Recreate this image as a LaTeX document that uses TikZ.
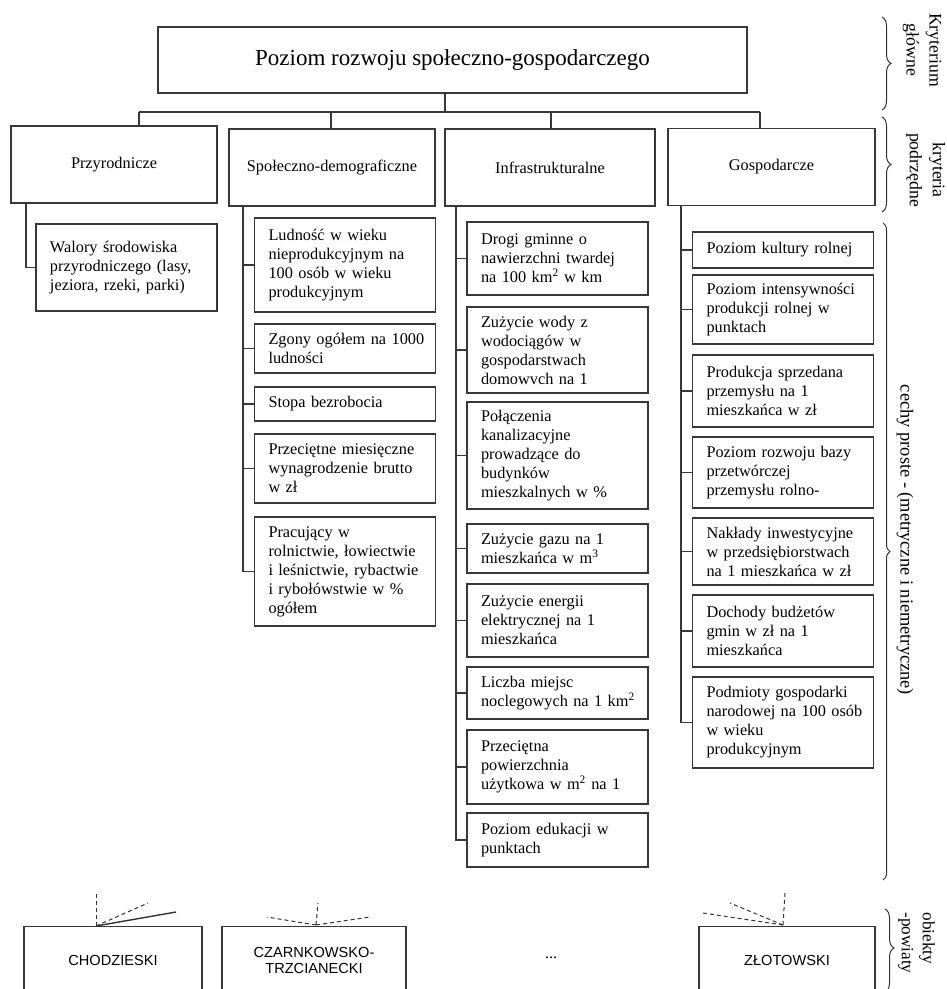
\documentclass[tikz,border=0pt]{standalone}
\usepackage{fontspec}
\setmainfont{Liberation Serif}
\newfontfamily\arialf{Liberation Sans}
\usetikzlibrary{decorations.pathreplacing}
\begin{document}
\begin{tikzpicture}[x=1pt,y=-1pt,
  every node/.style={inner sep=0pt},
  ln/.style={draw=black!78, line width=1.1pt},
  conn/.style={draw=black!78, line width=1.1pt},
  titlebox/.style={ln, minimum width=589pt, minimum height=66pt, font=\fontsize{23}{27}\selectfont},
  catbox/.style={ln, minimum height=77pt, font=\fontsize{16.3}{20}\selectfont},
  subbox/.style={ln, minimum width=181pt, text width=163pt, align=left, inner xsep=9pt, font=\fontsize{16.3}{19}\selectfont},
  objbox/.style={ln, anchor=north, minimum height=68pt, align=center, font=\arialf\fontsize{14.6}{16}\selectfont},
  brc/.style={draw=black!80, line width=1pt, decorate, decoration={brace, amplitude=9pt}},
  blabel/.style={rotate=-90, align=center, font=\fontsize{17.7}{23}\selectfont},
  dsh/.style={draw=black!80, line width=1pt, dash pattern=on 4pt off 3pt},
  sol/.style={draw=black!80, line width=1.4pt}
]
\useasboundingbox (0,0) rectangle (947,989);

% title
\node[titlebox] (top) at (452.5,60) {Poziom rozwoju społeczno-gospodarczego};

% categories
\node[catbox, minimum width=206pt] (c1) at (114,164.5) {Przyrodnicze};
\node[catbox, minimum width=206pt] (c2) at (332,167.5) {Społeczno-demograficzne};
\node[catbox, minimum width=210pt] (c3) at (550,167.5) {Infrastrukturalne};
\node[catbox, minimum width=207pt] (c4) at (771.5,167) {Gospodarcze};

% bus
\coordinate (bus) at (445,112);
\coordinate (t1) at (139,112);
\coordinate (t2) at (331,112);
\coordinate (t3) at (551,112);
\coordinate (t4) at (760,112);
\draw[conn] (top.south -| bus) -- (bus);
\draw[conn] (t1) -- (t4);
\draw[conn] (t1) -- (c1.north -| t1);
\draw[conn] (t2) -- (c2.north -| t2);
\draw[conn] (t3) -- (c3.north -| t3);
\draw[conn] (t4) -- (c4.north -| t4);

% column 1
\node[subbox, minimum height=87pt] (a1) at (126.5,267.5) {\hspace*{5pt}Walory środowiska\\\hspace*{5pt}przyrodniczego (lasy,\\\hspace*{5pt}jeziora, rzeki, parki)};
\coordinate (v1) at (26,0);
\draw[conn] (c1.south -| v1) |- (a1.west);

% column 2
\node[subbox, minimum height=94pt] (b1) at (345,265) {\hspace*{5pt}Ludność w wieku\\\hspace*{5pt}nieprodukcyjnym na\\\hspace*{5pt}100 osób w wieku\\\hspace*{5pt}produkcyjnym};
\node[subbox, minimum height=49pt] (b2) at (345,348.5) {\hspace*{5pt}Zgony ogółem na 1000\\\hspace*{5pt}ludności};
\node[subbox, minimum height=34pt] (b3) at (345,404) {\hspace*{5pt}Stopa bezrobocia};
\node[subbox, minimum height=69pt] (b4) at (345,468.5) {\hspace*{5pt}Przeciętne miesięczne\\\hspace*{5pt}wynagrodzenie brutto\\\hspace*{5pt}w zł};
\node[subbox, minimum height=109pt] (b5) at (345,571.5) {\hspace*{5pt}Pracujący w\\\hspace*{5pt}rolnictwie, łowiectwie\\\hspace*{5pt}i leśnictwie, rybactwie\\\hspace*{5pt}i rybołówstwie w \%\\\hspace*{5pt}ogółem};
\coordinate (v2) at (243,0);
\draw[conn] (c2.south -| v2) |- (b5.west);
\foreach \n in {b1,b2,b3,b4} \draw[conn] (\n.west) -- (\n.west -| v2);

% column 3
\node[subbox, minimum height=73pt] (d1) at (557.5,258.5) {\hspace*{5pt}Drogi gminne o\\\hspace*{5pt}nawierzchni twardej\\\hspace*{5pt}na 100 km\textsuperscript{2} w km};
\node[subbox, minimum height=86pt] (d2) at (557.5,350) {\hspace*{5pt}Zużycie wody z\\\hspace*{5pt}wodociągów w\\\hspace*{5pt}gospodarstwach\\\hspace*{5pt}domowvch na 1};
\node[subbox, minimum height=107pt] (d3) at (557.5,455.5) {\hspace*{5pt}Połączenia\\\hspace*{5pt}kanalizacyjne\\\hspace*{5pt}prowadzące do\\\hspace*{5pt}budynków\\\hspace*{5pt}mieszkalnych w \%};
\node[subbox, minimum height=49pt] (d4) at (557.5,548.5) {\hspace*{5pt}Zużycie gazu na 1\\\hspace*{5pt}mieszkańca w m\textsuperscript{3}};
\node[subbox, minimum height=73pt] (d5) at (557.5,620.5) {\hspace*{5pt}Zużycie energii\\\hspace*{5pt}elektrycznej na 1\\\hspace*{5pt}mieszkańca};
\node[subbox, minimum height=52pt] (d6) at (557.5,693) {\hspace*{5pt}Liczba miejsc\\\hspace*{5pt}noclegowych na 1 km\textsuperscript{2}};
\node[subbox, minimum height=74pt] (d7) at (557.5,767) {\hspace*{5pt}Przeciętna\\\hspace*{5pt}powierzchnia\\\hspace*{5pt}użytkowa w m\textsuperscript{2} na 1};
\node[subbox, minimum height=54pt] (d8) at (557.5,840) {\hspace*{5pt}Poziom edukacji w\\\hspace*{5pt}punktach};
\coordinate (v3) at (456,0);
\draw[conn] (c3.south -| v3) |- (d8.west);
\foreach \n in {d1,d2,d3,d4,d5,d6,d7} \draw[conn] (\n.west) -- (\n.west -| v3);

% column 4
\node[subbox, minimum height=36pt] (g1) at (783,250) {\hspace*{5pt}Poziom kultury rolnej};
\node[subbox, minimum height=69pt] (g2) at (783,309.5) {\hspace*{5pt}Poziom intensywności\\\hspace*{5pt}produkcji rolnej w\\\hspace*{5pt}punktach};
\node[subbox, minimum height=72pt] (g3) at (783,391) {\hspace*{5pt}Produkcja sprzedana\\\hspace*{5pt}przemysłu na 1\\\hspace*{5pt}mieszkańca w zł};
\node[subbox, minimum height=71pt] (g4) at (783,472.5) {\hspace*{5pt}Poziom rozwoju bazy\\\hspace*{5pt}przetwórczej\\\hspace*{5pt}przemysłu rolno-};
\node[subbox, minimum height=67pt] (g5) at (783,551.5) {\hspace*{5pt}Nakłady inwestycyjne\\\hspace*{5pt}w przedsiębiorstwach\\\hspace*{5pt}na 1 mieszkańca w zł};
\node[subbox, minimum height=72pt] (g6) at (783,631) {\hspace*{5pt}Dochody budżetów\\\hspace*{5pt}gmin w zł na 1\\\hspace*{5pt}mieszkańca};
\node[subbox, minimum height=91pt] (g7) at (783,722.5) {\hspace*{5pt}Podmioty gospodarki\\\hspace*{5pt}narodowej na 100 osób\\\hspace*{5pt}w wieku\\\hspace*{5pt}produkcyjnym};
\coordinate (v4) at (681,0);
\draw[conn] (c4.south -| v4) |- (g7.west);
\foreach \n in {g1,g2,g3,g4,g5,g6} \draw[conn] (\n.west) -- (\n.west -| v4);

% braces and labels
\coordinate (r1a) at (882,17);  \coordinate (r1b) at (882,110);
\coordinate (r2a) at (882,117); \coordinate (r2b) at (882,212);
\coordinate (r3a) at (883,223); \coordinate (r3b) at (883,880);
\coordinate (r4a) at (885,909); \coordinate (r4b) at (885,992);
\draw[brc] (r1a) -- (r1b);
\draw[brc] (r2a) -- (r2b);
\draw[brc, decoration={brace, amplitude=7pt}] (r3a) -- (r3b);
\draw[brc, decoration={brace, amplitude=9pt, aspect=0.47}] (r4a) -- (r4b);
\node[blabel] (l1) at (922,50) {Kryterium\\główne};
\node[blabel] (l2) at (925.5,170) {kryteria\\podrzędne};
\node[blabel, font=\fontsize{18.4}{23}\selectfont] (l3) at (905,540) {cechy proste - (metryczne i niemetryczne)};
\node[blabel, align=left, font=\fontsize{17.2}{21}\selectfont] (l4) at (916.5,943) {obiekty\\-powiaty};

% objects
\node[objbox, minimum width=178pt] (o1) at (113,926) {CHODZIESKI};
\node[objbox, minimum width=184pt] (o2) at (314,926) {CZARNKOWSKO-\\TRZCIANECKI};
\node[font=\fontsize{16}{18}\selectfont] (o3) at (551,958) {...};
\node[objbox, minimum width=176pt] (o4) at (787,926) {ZŁOTOWSKI};

\coordinate (p1) at (96,926);
\coordinate (q1a) at (96,893); \coordinate (q1b) at (148,903); \coordinate (q1c) at (176,912);
\draw[dsh] (p1) -- (q1a);
\draw[dsh] (p1) -- (q1b);
\draw[sol] (p1) -- (q1c);
\coordinate (p2) at (316,925);
\coordinate (q2a) at (318,903); \coordinate (q2b) at (267,917); \coordinate (q2c) at (370,917);
\draw[dsh] (p2) -- (q2a);
\draw[dsh] (p2) -- (q2b);
\draw[dsh] (p2) -- (q2c);
\coordinate (p4) at (783,925);
\coordinate (q4a) at (785,893); \coordinate (q4b) at (703,913); \coordinate (q4c) at (730,903);
\draw[dsh] (p4) -- (q4a);
\draw[dsh] (p4) -- (q4b);
\draw[dsh] (p4) -- (q4c);
\end{tikzpicture}
\end{document}
